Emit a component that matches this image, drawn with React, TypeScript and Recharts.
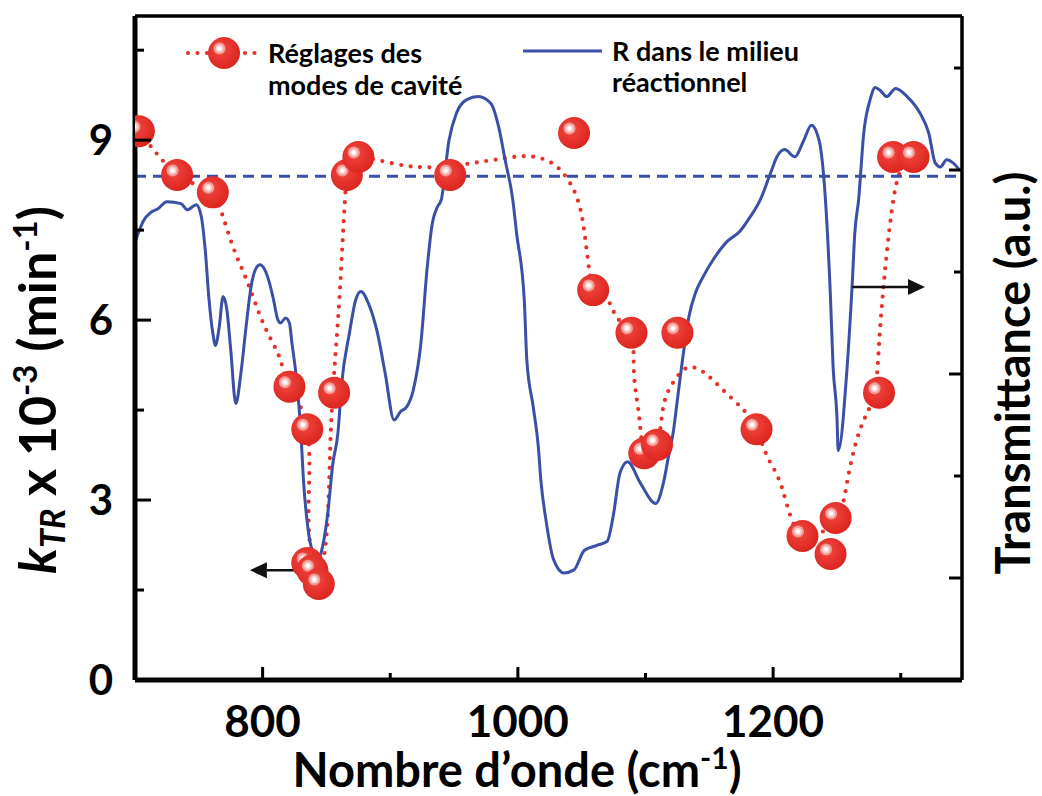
import React from "react";
import {
  ComposedChart,
  Line,
  Scatter,
  XAxis,
  YAxis,
  ReferenceLine,
  Legend,
} from "recharts";

// IR spectrum (right axis, arbitrary units)
const waveX = [
  700, 707, 712, 718, 725, 736, 741, 748, 752, 755, 758, 761, 763, 766, 769,
  772, 775, 779, 783, 787, 791, 795, 798, 804, 808, 812, 814, 818, 821, 823,
  826, 830, 832, 835, 839, 844, 847, 851, 855, 859, 862, 868, 873, 877, 883,
  890, 896, 903, 908, 913, 918, 924, 929, 933, 937, 940, 946, 952, 960, 969,
  979, 985, 990, 996, 999, 1005, 1007, 1012, 1016, 1018, 1022, 1028, 1036,
  1044, 1052, 1062, 1070, 1075, 1080, 1086, 1096, 1108, 1114, 1118, 1122,
  1125, 1129, 1134, 1139, 1145, 1153, 1164, 1174, 1182, 1190, 1198, 1203,
  1209, 1217, 1224, 1230, 1236, 1241, 1245, 1247, 1250, 1251, 1258, 1262,
  1264, 1267, 1271, 1276, 1280, 1284, 1289, 1296, 1305, 1315, 1322, 1327,
  1331, 1336, 1341, 1346,
];
const transmittance = [
  4.29, 4.51, 4.58, 4.62, 4.69, 4.67, 4.61, 4.66, 4.54, 4.22, 3.73, 3.4, 3.28,
  3.46, 3.76, 3.63, 3.24, 2.71, 3.01, 3.46, 3.86, 4.04, 4.07, 3.95, 3.76, 3.53,
  3.5, 3.55, 3.5, 3.3, 3.01, 2.42, 1.96, 1.54, 1.27, 1.2, 1.31, 1.63, 2.12,
  2.42, 2.91, 3.4, 3.73, 3.81, 3.69, 3.4, 3.01, 2.55, 2.63, 2.68, 2.84, 3.3,
  4.05, 4.48, 4.64, 4.71, 5.29, 5.56, 5.69, 5.72, 5.65, 5.42, 5.1, 4.71, 4.38,
  3.73, 3.14, 2.68, 2.29, 1.96, 1.57, 1.18, 1.05, 1.08, 1.27, 1.32, 1.36, 1.63,
  2.03, 2.14, 1.93, 1.73, 1.93, 2.19, 2.45, 2.75, 3.14, 3.56, 3.79, 3.95, 4.12,
  4.3, 4.4, 4.54, 4.71, 4.97, 5.13, 5.2, 5.13, 5.29, 5.44, 5.29, 4.71, 3.73,
  3.07, 2.58, 2.25, 3.07, 3.89, 4.38, 4.71, 5.36, 5.69, 5.81, 5.78, 5.72, 5.8,
  5.72, 5.56, 5.36, 5.07, 5.03, 5.1, 5.07, 5.0,
];

// measured k_TR for each cavity mode
const modeX = [
  703, 733, 761, 821, 835, 835, 839, 844, 856, 866, 875, 947, 1044, 1059, 1089,
  1099, 1109, 1125, 1187, 1223, 1245, 1249, 1283, 1294, 1310,
];
const kTR = [
  9.15, 8.42, 8.13, 4.89, 4.18, 1.95, 1.83, 1.6, 4.79, 8.42, 8.72, 8.42, 9.12,
  6.5, 5.79, 3.78, 3.92, 5.79, 4.18, 2.4, 2.1, 2.7, 4.79, 8.72, 8.72,
];

// guide-to-the-eye dotted curve
const trendX = [
  703, 718, 733, 746, 761, 775, 788, 801, 813, 821, 835, 836, 838, 843, 850,
  853, 856, 860, 863, 866, 875, 905, 935, 965, 990, 1010, 1028, 1041, 1051,
  1059, 1070, 1078, 1089, 1091, 1095, 1099, 1109, 1114, 1122, 1132, 1145, 1161,
  1177, 1187, 1196, 1207, 1223, 1249, 1258, 1268, 1279, 1283, 1287, 1293, 1300,
  1310,
];
const trendK = [
  9.15, 8.75, 8.42, 8.28, 8.13, 7.33, 6.64, 5.92, 5.39, 4.89, 4.18, 2.9, 2.1,
  1.7, 2.4, 3.9, 5.1, 6.3, 7.45, 8.42, 8.72, 8.6, 8.55, 8.62, 8.7, 8.73, 8.6,
  8.28, 7.63, 6.5, 6.33, 6.03, 5.79, 5.1, 4.4, 3.85, 3.92, 4.56, 4.97, 5.2,
  5.14, 4.83, 4.5, 4.18, 3.7, 3.2, 2.4, 2.7, 3.3, 4.17, 4.75, 5.6, 6.67, 7.83,
  8.5, 8.72,
];

const outOfCavityK = 8.4;
const xTicks = [800, 900, 1000, 1100, 1200, 1300];
const xLabels = [800, 1000, 1200];
const kTicks = [0, 1.5, 3, 4.5, 6, 7.5, 9, 10.5];
const kLabels = [0, 3, 6, 9];
const tTicks = [1, 2, 3, 4, 5, 6];
const arrows = [
  { from: 830, to: 790, y: 1.83 },
  { from: 1262, to: 1319, y: 6.55 },
];

const modeLabel = ["Réglages des", "modes de cavité"];
const specLabel = ["R dans le milieu", "réactionnel"];

const RED = "#e8302a";
const BLUE = "#3b4fa6";
const FONT = "Lato, 'Open Sans', sans-serif";

const spectrum = waveX.map((x, i) => ({ x, t: transmittance[i] }));
const modes = modeX.map((x, i) => ({ x, k: kTR[i] }));
const trend = trendX.map((x, i) => ({ x, k: trendK[i] }));

function Ball({ cx, cy }: { cx?: number; cy?: number }) {
  if (cx == null || cy == null) return null;
  return (
    <g>
      <defs>
        <radialGradient id="ballFill" cx="40%" cy="38%" r="62%">
          <stop offset="0%" stopColor="#f2473f" />
          <stop offset="100%" stopColor="#dc2620" />
        </radialGradient>
      </defs>
      <circle cx={cx} cy={cy} r={16} fill="url(#ballFill)" />
      <circle cx={cx - 4.5} cy={cy - 4.5} r={6} fill="#f29c98" />
      <circle cx={cx - 4.5} cy={cy - 4.5} r={3.8} fill="#fad3d1" />
      <circle cx={cx - 4.5} cy={cy - 4.5} r={2} fill="#fff" />
    </g>
  );
}

function KTick({ x, y, payload }: any) {
  const v = payload.value;
  const major = kLabels.includes(v);
  return (
    <g>
      {v > 0 && (
        <line x1={x} x2={x + (major ? 16 : 9)} y1={y} y2={y} stroke="#000" strokeWidth={3} />
      )}
      {major && (
        <text x={x - 22} y={y} dy="0.36em" textAnchor="end" fontFamily={FONT} fontWeight={700} fontSize={42} fill="#000">
          {v}
        </text>
      )}
    </g>
  );
}

function TTick({ x, y, payload }: any) {
  const long = payload.value % 2 === 1;
  return <line x1={x} x2={x - (long ? 13 : 8)} y1={y} y2={y} stroke="#000" strokeWidth={3} />;
}

function XTick({ x, y, payload }: any) {
  const v = payload.value;
  const major = xLabels.includes(v);
  return (
    <g>
      <line x1={x} x2={x} y1={y} y2={y - (major ? 13 : 7)} stroke="#000" strokeWidth={3} />
      {major && (
        <text x={x} y={y + 57} textAnchor="middle" fontFamily={FONT} fontWeight={700} fontSize={44} fill="#000">
          {v}
        </text>
      )}
    </g>
  );
}

const KTitle = () => (
  <text transform="rotate(-90 56 390)" x={56} y={390} textAnchor="middle" fontFamily={FONT} fontWeight={700} fontSize={52} fill="#000">
    <tspan fontStyle="italic">k</tspan>
    <tspan fontStyle="italic" fontSize={34} dy={9}>TR</tspan>
    <tspan dy={-9}> x 10</tspan>
    <tspan fontSize={33} dy={-19}>-3</tspan>
    <tspan dy={19}> (min</tspan>
    <tspan fontSize={33} dy={-19}>-1</tspan>
    <tspan dy={19}>)</tspan>
  </text>
);

const TTitle = () => (
  <text transform="rotate(-90 1030 373)" x={1030} y={373} textAnchor="middle" fontFamily={FONT} fontWeight={700} fontSize={47} fill="#000">
    Transmittance (a.u.)
  </text>
);

const XTitle = () => (
  <text x={517} y={787} textAnchor="middle" fontFamily={FONT} fontWeight={700} fontSize={47} fill="#000">
    Nombre d’onde (cm
    <tspan fontSize={30} dy={-18}>-1</tspan>
    <tspan dy={18}>)</tspan>
  </text>
);

function Arrow(props: any) {
  const { x1, y1, x2, y2 } = props;
  const dir = x2 > x1 ? 1 : -1;
  const head = 17;
  return (
    <g>
      <line x1={x1} y1={y1} x2={x2 - dir * head} y2={y2} stroke="#111" strokeWidth={2.5} />
      <polygon
        points={`${x2},${y2} ${x2 - dir * head},${y2 - 8} ${x2 - dir * head},${y2 + 8}`}
        fill="#111"
      />
    </g>
  );
}

function LegendBox() {
  const textStyle = { fontFamily: FONT, fontWeight: 700, fontSize: 27, fill: "#000" };
  return (
    <svg width={1042} height={110} style={{ display: "block" }}>
      <line x1={188} x2={262} y1={53} y2={53} stroke={RED} strokeWidth={4.2} strokeDasharray="0 9.5" strokeLinecap="round" />
      <Ball cx={224} cy={53} />
      <text x={268} y={63} {...textStyle}>{modeLabel[0]}</text>
      <text x={268} y={95} {...textStyle}>{modeLabel[1]}</text>
      <line x1={523} x2={602} y1={51} y2={51} stroke={BLUE} strokeWidth={3} />
      <text x={612} y={61} {...textStyle}>{specLabel[0]}</text>
      <text x={612} y={92} {...textStyle}>{specLabel[1]}</text>
    </svg>
  );
}

export default function App() {
  return (
    <div style={{ position: "absolute", left: 0, top: 0, background: "#fff" }}>
      <ComposedChart width={1042} height={796} margin={{ top: 16, right: 0, bottom: 0, left: 0 }}>
        <XAxis
          type="number"
          dataKey="x"
          domain={[700, 1348]}
          allowDataOverflow
          ticks={xTicks}
          interval={0}
          height={116}
          tickSize={0}
          tickMargin={0}
          tickLine={false}
          tick={<XTick />}
          axisLine={{ stroke: "#000", strokeWidth: 5 }}
          label={<XTitle />}
        />
        <YAxis
          yAxisId="k"
          type="number"
          domain={[0, 11.07]}
          allowDataOverflow
          ticks={kTicks}
          interval={0}
          width={135}
          tickSize={0}
          tickMargin={0}
          tickLine={false}
          tick={<KTick />}
          axisLine={{ stroke: "#000", strokeWidth: 5 }}
          label={<KTitle />}
        />
        <YAxis
          yAxisId="t"
          orientation="right"
          type="number"
          domain={[0, 6.51]}
          allowDataOverflow
          ticks={tTicks}
          interval={0}
          width={80}
          tickSize={0}
          tickMargin={0}
          tickLine={false}
          tick={<TTick />}
          axisLine={{ stroke: "#000", strokeWidth: 3.5 }}
          label={<TTitle />}
        />
        <ReferenceLine yAxisId="k" y={11.07} stroke="#000" strokeWidth={3.5} ifOverflow="visible" />
        <Line
          yAxisId="k"
          data={trend}
          dataKey="k"
          type="natural"
          stroke={RED}
          strokeWidth={4.2}
          strokeDasharray="0 9.5"
          strokeLinecap="round"
          dot={false}
          activeDot={false}
          legendType="none"
          isAnimationActive={false}
        />
        <Scatter
          yAxisId="k"
          name={modeLabel.join(" ")}
          data={modes}
          dataKey="k"
          shape={(p: any) => <Ball cx={p.cx} cy={p.cy} />}
          isAnimationActive={false}
        />
        <Line
          yAxisId="t"
          name={specLabel.join(" ")}
          data={spectrum}
          dataKey="t"
          type="monotone"
          stroke={BLUE}
          strokeWidth={3}
          dot={false}
          activeDot={false}
          isAnimationActive={false}
        />
        <ReferenceLine yAxisId="k" y={outOfCavityK} stroke={BLUE} strokeWidth={3} strokeDasharray="11 7" />
        {arrows.map((a, i) => (
          <ReferenceLine
            key={i}
            yAxisId="k"
            segment={[
              { x: a.from, y: a.y },
              { x: a.to, y: a.y },
            ]}
            shape={(p: any) => <Arrow {...p} />}
          />
        ))}
        <Legend
          layout="vertical"
          align="center"
          verticalAlign="middle"
          wrapperStyle={{ position: "absolute", left: 0, top: 0, width: 1042, height: 110, pointerEvents: "none" }}
          content={() => <LegendBox />}
        />
      </ComposedChart>
    </div>
  );
}
